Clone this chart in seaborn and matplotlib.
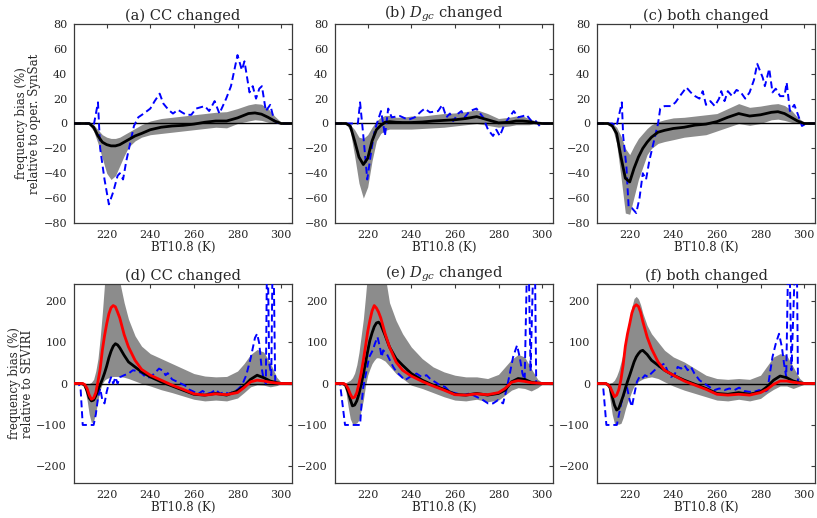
import matplotlib
matplotlib.use("Agg")
import numpy as np
import pandas as pd
import seaborn as sns
import matplotlib.pyplot as plt

# ---------------- data ----------------
# top row knots (K)
xt = [205, 210, 212, 214, 216, 218, 220, 222, 224, 226, 228, 230, 233, 236, 240,
      245, 250, 255, 260, 265, 270, 275, 280, 285, 288, 291, 294, 297, 300, 305]

a_mean = [0, 0, 0, -3, -10, -15, -17, -18, -18, -17, -15, -13, -10, -8, -5,
          -3, -2, -1.5, -0.5, 1, 2, 2, 4.5, 8, 8.5, 7.5, 5, 2, 0, 0]
a_lo = [0, 0, -1, -6, -16, -28, -40, -45, -42, -34, -26, -19, -14, -11, -9,
        -8, -7, -6, -5, -4, -3, -3.5, 0, 2, 3, 2.5, 1, 0, 0, 0]
a_hi = [0, 0, 0, -1, -5, -9, -11, -12, -12, -11, -9, -7, -4, -1, 2,
        4, 5, 6, 7, 8, 9, 9.5, 12, 15, 16, 15.5, 12, 6, 1, 0]
a_obs_x = [205, 212, 214, 216, 217, 219, 221, 223, 225, 226, 227.5, 229, 230.5, 232.5,
           234.5, 237, 240, 242, 244.3, 246, 247.4, 249, 250.4, 252.7, 254.5, 256.5,
           258.8, 261, 263, 265, 267, 269.5, 271.7, 274.8, 277, 280, 282, 283.2, 285.5,
           287, 288.5, 290, 291.2, 293, 295, 296.9, 299.2, 305]
a_obs = [0, 0, -2, 17, -20, -45, -65, -55, -42, -40, -45, -30, -18, -2,
         5, 8, 12, 18, 24, 16, 13, 10, 8, 11, 9, 7,
         7, 12, 13, 14, 10, 18, 8, 20, 30, 55, 43, 50, 25,
         30, 20, 28, 30, 10, 15, 2, 0, 0]

b_mean = [0, 0, -2, -14, -27, -33, -28, -14, -5, -1.5, 1, 1.5, 1, 0.8, 0.8,
          1.2, 2, 2.5, 3, 4, 5.5, 3, 0.5, 1, 2, 2, 1.5, 0.5, 0, 0]
b_lo = [0, 0, -6, -26, -48, -60, -51, -30, -14, -8, -5.5, -4.5, -4.5, -4.5, -4.5,
        -4, -3.5, -3, -2, -1, 0, -1.5, -3, -2, -1, -1, -1, 0, 0, 0]
b_hi = [0, 0, -1, -5, -11, -12, -9, -3, 2, 5, 6.5, 6.5, 5, 5, 6,
        6, 7, 8, 8.5, 9.5, 11, 8, 4, 5, 6, 6, 4, 2, 0, 0]
b_obs_x = [205, 213, 215.5, 216.5, 218, 219.8, 221.8, 223.3, 226.1, 227.1, 227.9, 229.4,
           231, 234.8, 238.6, 241.6, 244.7, 246.2, 248.5, 252.3, 254.2, 256.1, 257.7,
           259.2, 261.5, 263, 264.5, 266.8, 269.9, 272.9, 275.2, 277.5, 279, 280.6,
           282.9, 287, 289, 291.3, 292.8, 295.1, 296.6, 298.9, 300.4, 305]
b_obs = [0, 0, 0, 17, -10, -45, -20, -5, 10, 0, -10, 12,
         5, 6, 3, 5, 10, 12, 9, 10, 15, 5, 8,
         2, 8, 10, 5, 10, 12, 5, -5, -10, -5, -10,
         0, 10, 5, 6, 7, 2, 3, -2, 0, 0]

c_mean = [0, 0, -2, -8, -27, -44, -47, -36, -27, -20, -15, -11, -7, -5.5, -4,
          -3, -1.3, -0.5, 1.5, 5, 8, 6, 7, 9, 9.5, 8, 5, 2, 0, 0]
c_lo = [0, 0, -3, -16, -43, -72, -73, -59, -45, -35, -25, -20, -16, -14.5, -13,
        -11, -10, -9, -6, -3, 0, -1.5, 0, 3, 3.5, 2.5, 1, 0, 0, 0]
c_hi = [0, 0, 0, -3, -10, -20, -25, -18, -12, -8, -4, -1, 1.5, 3, 4.5,
        5, 6, 7, 8, 12, 16, 13, 14, 15.5, 16, 14.5, 11, 5, 1, 0]
c_obs_x = [205, 212, 214, 216.4, 217, 218.5, 219.5, 221, 223, 224.5, 226, 227.5, 229, 231,
           233, 234, 236, 239, 241, 243, 246, 248, 250, 252, 253.5, 255, 257, 259,
           261, 262, 263.5, 265, 267, 269, 271, 273, 275, 277, 278.5, 281, 282, 284,
           285.5, 287, 289, 291, 292, 293.5, 295.5, 297, 299, 301, 305]
c_obs = [0, 0, -2, 17, -10, -35, -67, -68, -72, -60, -40, -45, -30, -15,
         0, 12, 14, 14, 17, 22, 29, 25, 22, 20, 26, 15, 18, 14,
         20, 26, 18, 26, 22, 27, 25, 20, 25, 35, 48, 37, 30, 44,
         25, 28, 22, 22, 33, 10, 15, 8, -2, 0, 0]

# bottom row knots (K)
xb = [205, 208, 209, 210, 211, 212, 213, 214, 215, 216, 217, 218, 219, 220, 221,
      222, 223, 224, 225, 226, 228, 230, 233, 236, 240, 245, 250, 255, 260, 265,
      270, 275, 280, 283, 286, 289, 292, 295, 298, 300, 305]

d_mean = [0, 0, -1, -5, -18, -35, -42, -40, -30, -15, -3, 10, 25, 42, 62,
          78, 90, 96, 93, 86, 68, 52, 40, 28, 16, 4, -6, -16, -26, -28,
          -24, -28, -18, -6, 10, 20, 14, 6, 2, 0, 0]
d_red = [0, 0, 0, -3, -12, -28, -38, -35, -22, 5, 35, 80, 115, 144, 168,
         183, 188, 185, 172, 158, 118, 88, 56, 34, 20, 8, -4, -14, -25, -28,
         -25, -27, -22, -10, 4, 8, 6, 3, 1, 0, 0]
d_lo = [0, 0, -2, -15, -40, -75, -95, -90, -70, -40, -15, 0, 8, 12, 14,
        16, 17, 17, 17, 17, 15, 12, 6, 0, -6, -15, -22, -30, -38, -42,
        -40, -42, -35, -22, -8, -3, -4, -8, -5, 0, 0]
d_hi = [0, 0, 0, 0, 0, 0, 3, 10, 30, 60, 110, 170, 240, 290, 320,
        330, 330, 320, 290, 245, 195, 155, 115, 90, 72, 60, 48, 36, 24, 18,
        16, 17, 30, 48, 70, 82, 76, 50, 15, 3, 0]
d_obs_x = [205, 207, 208, 209, 210, 211, 212, 213, 214, 215, 216, 217, 218, 219, 220,
           221, 222, 223, 224, 225, 226, 228, 230, 232, 234, 236, 238, 240, 242, 244,
           246, 247, 248, 250, 252, 254, 256, 258, 260, 262, 264, 266, 268, 270, 272,
           274, 276, 278, 280, 282, 284, 286, 288, 289, 290, 291, 292, 293, 293.7,
           294.5, 295.5, 296.3, 297.3, 299, 305]
d_obs = [0, 0, -10, -100, -100, -100, -100, -100, -100, -75, -35, -12, -40, -48, -20,
         0, 15, 0, 15, 0, 15, 20, 24, 32, 30, 25, 15, 15, 25, 36,
         30, 20, 25, 10, 5, 0, -5, -15, -20, -25, -18, -25, -22, -15, -25,
         -20, -25, -20, -15, -5, 20, 60, 110, 120, 96, 40, 10, 0, 400,
         50, 20, 400, 0, 0, 0]

e_mean = [0, 0, -1, -5, -20, -38, -54, -52, -42, -25, -2, 22, 50, 78, 104,
          122, 137, 146, 148, 142, 116, 88, 60, 44, 24, 8, -4, -14, -26, -28,
          -24, -28, -24, -16, 4, 12, 10, 3, 1, 0, 0]
e_red = [0, 0, 0, -3, -12, -25, -35, -33, -22, 0, 25, 56, 90, 125, 152,
         175, 188, 182, 172, 158, 120, 88, 52, 32, 18, 5, -6, -16, -27, -28,
         -25, -27, -22, -12, 3, 7, 5, 2, 1, 0, 0]
e_lo = [0, 0, -5, -20, -55, -85, -97, -97, -95, -88, -65, -40, -5, 20, 35,
        48, 56, 62, 62, 60, 54, 42, 24, 12, -4, -12, -22, -32, -40, -42,
        -38, -44, -40, -28, -16, -10, -12, -18, -10, -2, 0]
e_hi = [0, 0, 0, 2, 5, 8, 14, 25, 45, 75, 115, 155, 210, 270, 320,
        350, 360, 360, 350, 320, 260, 195, 152, 120, 88, 60, 40, 28, 20, 16,
        16, 12, 22, 40, 58, 70, 64, 36, 10, 3, 0]
e_obs_x = [205, 207.3, 209.6, 212, 214, 216.5, 217.2, 218, 219.5, 220.7, 222.3, 223.3,
           224.5, 225.6, 226.4, 227.1, 228.7, 230.2, 231.7, 233.2, 234.8, 237.1, 239.4,
           242.4, 244.7, 247, 248.5, 250.8, 253.1, 255.4, 257.7, 260.7, 263.8, 266.8,
           269.9, 272.9, 275.2, 277.5, 279.8, 282.1, 283.6, 285.2, 286.7, 288.5, 289.7,
           291, 292, 293.5, 294.7, 296.5, 297.3, 305]
e_obs = [0, 0, -100, -100, -100, -100, -48, -8, 32, 64, 80, 96,
         112, 88, 64, 80, 72, 56, 40, 28, 20, 8, 16,
         24, 16, 20, 12, 4, -4, -8, -20, -24, -28, -24,
         -32, -40, -48, -48, -40, -48, -16, 24, 64, 92, 64,
         24, 8, 400, 30, 400, 0, 0]

f_mean = [0, 0, 0, -3, -10, -32, -52, -64, -60, -45, -30, -12, 5, 20, 36,
          52, 64, 72, 78, 80, 70, 56, 44, 32, 20, 8, -2, -12, -24, -26,
          -22, -26, -20, -8, 8, 18, 14, 6, 2, 0, 0]
f_red = [0, 0, 0, -3, -8, -20, -32, -28, -15, 10, 45, 90, 120, 144, 170,
         185, 190, 186, 172, 150, 112, 84, 52, 32, 20, 6, -4, -14, -26, -28,
         -26, -28, -22, -14, -2, 6, 6, 3, 1, 0, 0]
f_lo = [0, 0, -1, -4, -40, -75, -96, -98, -98, -96, -82, -62, -45, -32, -18,
        -6, -2, 5, 8, 11, 14, 16, 12, 4, -6, -16, -24, -32, -40, -42,
        -38, -42, -36, -24, -14, -6, -6, -12, -6, -2, 0]
f_hi = [0, 0, 0, 0, 1, 3, 8, 18, 32, 52, 72, 105, 135, 160, 185,
        205, 210, 204, 190, 170, 140, 120, 100, 80, 64, 52, 36, 20, 12, 10,
        12, 10, 20, 42, 64, 72, 68, 40, 12, 3, 0]
f_obs_x = [205, 207.7, 209.3, 212, 214.1, 216.1, 217.7, 218.7, 220, 221, 222.2, 223.3,
           224.5, 225.7, 227, 228.3, 229.8, 231.4, 232.9, 234.4, 236, 237.5, 239,
           240.5, 242, 243.6, 245.1, 246.6, 248.1, 249.7, 252, 254.2, 256.5, 258.8,
           261.1, 263.4, 265.7, 268, 270.2, 272.5, 274.8, 277.1, 279.4, 281.7, 283.2,
           284.3, 285.5, 287, 288.5, 289.8, 290.8, 291.8, 293, 294.2, 296.5, 297.2, 305]
f_obs = [0, 0, -100, -100, -100, -48, -20, -8, -40, -56, -24, 4,
         16, 12, 20, 16, 24, 32, 40, 44, 48, 28, 16,
         20, 40, 36, 44, 32, 40, 24, 8, 0, -8, -16,
         -12, -16, -12, -16, -10, -18, -20, -20, -16, -20, -16,
         24, 64, 96, 120, 88, 48, 16, 400, 32, 400, 0, 0]

titles = ["(a) CC changed", "(b) $D_{gc}$ changed", "(c) both changed",
          "(d) CC changed", "(e) $D_{gc}$ changed", "(f) both changed"]
ylabel_top = "frequency bias (%)\nrelative to oper. SynSat"
ylabel_bot = "frequency bias (%)\nrelative to SEVIRI"
xticks = [220, 240, 260, 280, 300]
yticks_top = [-80, -60, -40, -20, 0, 20, 40, 60, 80]
yticks_bot = [-200, -100, 0, 100, 200]

# ---------------- style ----------------
sns.set_style("white")
plt.rcParams["font.family"] = ["DejaVu Serif"]
plt.rcParams["mathtext.fontset"] = "dejavuserif"

fig = plt.figure(figsize=(8.17, 5.18), dpi=100)
W, H = 817.0, 518.0
lefts = [74, 335, 597]
pw = 218
tops = [24, 284]
ph = 199

panels = [
    (xt, a_mean, a_lo, a_hi, None, a_obs_x, a_obs),
    (xt, b_mean, b_lo, b_hi, None, b_obs_x, b_obs),
    (xt, c_mean, c_lo, c_hi, None, c_obs_x, c_obs),
    (xb, d_mean, d_lo, d_hi, d_red, d_obs_x, d_obs),
    (xb, e_mean, e_lo, e_hi, e_red, e_obs_x, e_obs),
    (xb, f_mean, f_lo, f_hi, f_red, f_obs_x, f_obs),
]

band_col = "#8c8c8c"
spine_col = "#3a3a3a"
for i, (xk, mean, lo, hi, red, ox, oy) in enumerate(panels):
    r, c = divmod(i, 3)
    ax = fig.add_axes([lefts[c] / W, 1 - (tops[r] + ph) / H, pw / W, ph / H])
    ax.fill_between(xk, lo, hi, color=band_col, lw=0, zorder=1)
    ax.axhline(0, color="black", lw=1.0, zorder=2)
    sns.lineplot(x=ox, y=oy, ax=ax, color="#0000ff", lw=1.4,
                 linestyle=(0, (3.6, 2.0)), zorder=3, sort=False)
    sns.lineplot(x=xk, y=mean, ax=ax, color="black", lw=2.0, zorder=4, sort=False)
    if red is not None:
        sns.lineplot(x=xk, y=red, ax=ax, color="#ff0000", lw=2.0, zorder=5, sort=False)
    ax.set_xlim(205, 305)
    if r == 0:
        ax.set_ylim(-80, 80)
        yt = yticks_top
    else:
        ax.set_ylim(-240, 240)
        yt = yticks_bot
    ax.set_yticks(yt)
    ax.set_xticks(xticks)
    ax.tick_params(direction="out", length=3, width=0.8, labelsize=8,
                   color=spine_col, pad=2)
    # inward ticks on top and right sides
    top = ax.secondary_xaxis("top")
    top.set_xticks(xticks)
    top.tick_params(direction="in", length=3, width=0.8, labeltop=False,
                    color=spine_col)
    right = ax.secondary_yaxis("right")
    right.set_yticks(yt)
    right.tick_params(direction="in", length=3, width=0.8, labelright=False,
                      color=spine_col)
    for sax in (top, right):
        for s in sax.spines.values():
            s.set_visible(False)
    for s in ax.spines.values():
        s.set_color(spine_col)
        s.set_linewidth(0.9)
    ax.set_title(titles[i], fontsize=10.5, pad=3)
    ax.set_xlabel("BT10.8 (K)", fontsize=8.5, labelpad=1)
    if c == 0:
        ax.set_ylabel(ylabel_top if r == 0 else ylabel_bot, fontsize=8.5,
                      labelpad=2, linespacing=0.95)
    else:
        ax.set_ylabel("")

fig.savefig("out.png", dpi=100)
